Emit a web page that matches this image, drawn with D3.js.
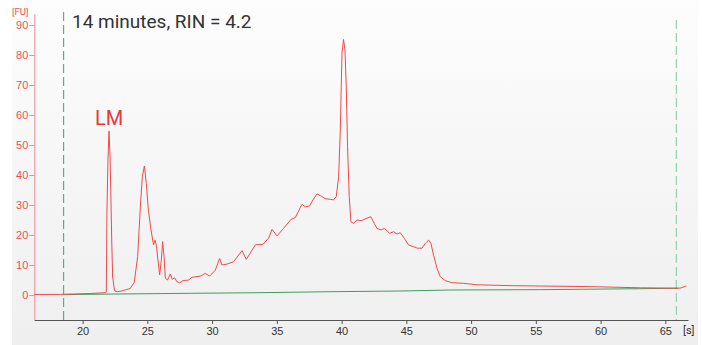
<!DOCTYPE html>
<html>
<head>
<meta charset="utf-8">
<script src="https://cdn.jsdelivr.net/npm/d3@7"></script>
<style>
  body { margin: 0; background: #fff; }
  svg { display: block; font-family: Roboto, "DejaVu Sans", sans-serif; }
</style>
</head>
<body>
<svg id="chart" width="702" height="345"></svg>
<script>
// electropherogram trace: time [s] and fluorescence [FU]
const traceTime = [16.27, 18.28, 19.44, 20.59, 21.37, 21.79, 21.83, 21.88, 21.96, 22.04, 22.12, 22.19, 22.25, 22.32, 22.47,
  22.68, 22.99, 23.30, 23.68, 23.99, 24.25, 24.46, 24.61, 24.77, 24.92, 25.08, 25.28, 25.48, 25.59, 25.69, 25.85,
  25.95, 26.08, 26.18, 26.29, 26.39, 26.56, 26.77, 26.93, 27.10, 27.29, 27.49, 27.75, 28.19, 28.45, 29.09, 29.47,
  29.81, 30.25, 30.58, 30.76, 31.15, 31.66, 32.31, 32.64, 33.34, 33.93, 34.36, 34.63, 35.01, 35.52, 36.09, 36.42,
  36.94, 37.20, 37.53, 37.79, 38.10, 38.41, 38.74, 39.13, 39.38, 39.59, 39.77, 39.90, 40.03, 40.15, 40.26, 40.36,
  40.46, 40.59, 40.72, 40.93, 41.19, 41.52, 41.96, 42.26, 42.52, 42.73, 43.04, 43.30, 43.71, 44.02, 44.28, 44.53,
  44.84, 45.17, 45.56, 45.87, 46.21, 46.46, 46.72, 46.90, 47.10, 47.37, 47.62, 48.01, 48.53, 49.42, 50.46, 53.28,
  55.34, 59.20, 63.07, 65.64, 66.15, 66.62]
const traceFU = [0.2, 0.2, 0.35, 0.5, 0.7, 0.8, 1, 28, 45, 54.7, 46, 31.7, 18, 6, 1.4,
  1.1, 1.3, 1.7, 2.2, 4.2, 12.8, 29.4, 39.4, 43, 37.2, 28.3, 21.7, 16.7, 18.3, 16.7, 10.6,
  6.7, 11.7, 17.8, 12.8, 5.6, 5, 7, 5.2, 5.8, 4.4, 4.1, 4.8, 5, 5.9, 6.3, 7.2,
  6.3, 8.3, 12.2, 10, 10.3, 11.1, 14.8, 11.9, 16.7, 16.9, 18.9, 21.9, 19.7, 22.2, 25.2, 25.8,
  30.2, 29.4, 29.7, 31.7, 33.7, 33, 32.1, 31.9, 31.7, 32.8, 39.4, 55, 80.6, 85.2, 81.7, 69.4,
  49.4, 32.8, 24.4, 23.9, 25, 24.8, 25.6, 26.1, 23.9, 22.2, 21.7, 22.2, 20.6, 21.1, 20.3, 20.8,
  18.9, 16.7, 16.1, 15.6, 15.6, 17.2, 18.3, 17.2, 13.3, 8.9, 6.1, 4.8, 4.1, 3.9, 3.4, 3.1,
  3.0, 2.8, 2.4, 2.3, 2.3, 3.0]

// baseline (green)
const baseTime = [18.5, 28.3, 33.7, 39.1, 44.5, 48.4, 55.3, 63.0, 66.0]
const baseFU = [0.15, 0.57, 0.77, 1.1, 1.33, 1.67, 1.78, 2.1, 2.25]

// start / end markers
const markerTime = [18.53, 65.85]

const xTicks = [20, 25, 30, 35, 40, 45, 50, 55, 60, 65]
const yTicks = [0, 10, 20, 30, 40, 50, 60, 70, 80, 90]

const title = '14 minutes, RIN = 4.2'
const peakLabel = 'LM'

const svg = d3.select('#chart')

const x = d3.scaleLinear().domain([16.27, 66.75]).range([34.3, 688])
const y = d3.scaleLinear().domain([-8.33, 93.67]).range([320, 14])

// background panel
const defs = svg.append('defs')
const grad = defs.append('linearGradient')
    .attr('id', 'bg')
    .attr('x1', 0).attr('y1', 0).attr('x2', 0).attr('y2', 1)
grad.append('stop').attr('offset', '0%').attr('stop-color', '#fdfdfd')
grad.append('stop').attr('offset', '100%').attr('stop-color', '#efefef')

svg.append('rect')
    .attr('x', 12).attr('y', 0)
    .attr('width', 686).attr('height', 345)
    .attr('fill', 'url(#bg)')

// axes
const yAxis = svg.append('g')
    .attr('transform', `translate(${x.range()[0]},0)`)
    .call(d3.axisLeft(y).tickValues(yTicks).tickSize(5).tickSizeOuter(0))
yAxis.select('.domain').attr('stroke', '#f28a8a')
yAxis.selectAll('.tick line').attr('stroke', '#f28a8a')
yAxis.selectAll('.tick text')
    .attr('fill', '#ee5050')
    .attr('font-size', 11)
    .attr('x', -6)

const xAxis = svg.append('g')
    .attr('transform', `translate(0,${y.range()[0]})`)
    .call(d3.axisBottom(x).tickValues(xTicks).tickSize(4).tickSizeOuter(0))
xAxis.select('.domain').attr('stroke', '#555')
xAxis.selectAll('.tick line').attr('stroke', '#555')
xAxis.selectAll('.tick text')
    .attr('fill', '#333')
    .attr('font-size', 11)
    .attr('y', 7)

svg.append('text')
    .attr('x', 12).attr('y', 15)
    .attr('fill', '#ee5050')
    .attr('font-size', 9.5)
    .text('[FU]')

svg.append('text')
    .attr('x', 683).attr('y', 334)
    .attr('fill', '#333')
    .attr('font-size', 11)
    .text('[s]')

// dashed markers
svg.append('g')
    .selectAll('line')
    .data(markerTime)
    .join('line')
        .attr('x1', d => x(d)).attr('x2', d => x(d))
        .attr('y1', (d, i) => i === 0 ? 12 : 20)
        .attr('y2', y.range()[0])
        .attr('stroke', (d, i) => i === 0 ? '#55b47a' : '#93d2ac')
        .attr('stroke-width', 1.2)
        .attr('stroke-dasharray', '9,4')

// baseline
const baseLine = d3.line()
    .x((d, i) => x(baseTime[i]))
    .y(d => y(d))
svg.append('path')
    .datum(baseFU)
    .attr('d', baseLine)
    .attr('fill', 'none')
    .attr('stroke', '#3f9e62')
    .attr('stroke-width', 1)

// trace
const traceLine = d3.line()
    .x((d, i) => x(traceTime[i]))
    .y(d => y(d))
svg.append('path')
    .datum(traceFU)
    .attr('d', traceLine)
    .attr('fill', 'none')
    .attr('stroke', '#f04a4a')
    .attr('stroke-width', 1)
    .attr('stroke-linejoin', 'round')

// labels
svg.append('text')
    .attr('x', 72).attr('y', 28)
    .attr('fill', '#333')
    .attr('font-size', 19)
    .text(title)

svg.append('text')
    .attr('x', 95).attr('y', 125)
    .attr('fill', '#e8383a')
    .attr('font-size', 20)
    .text(peakLabel)
</script>
</body>
</html>
